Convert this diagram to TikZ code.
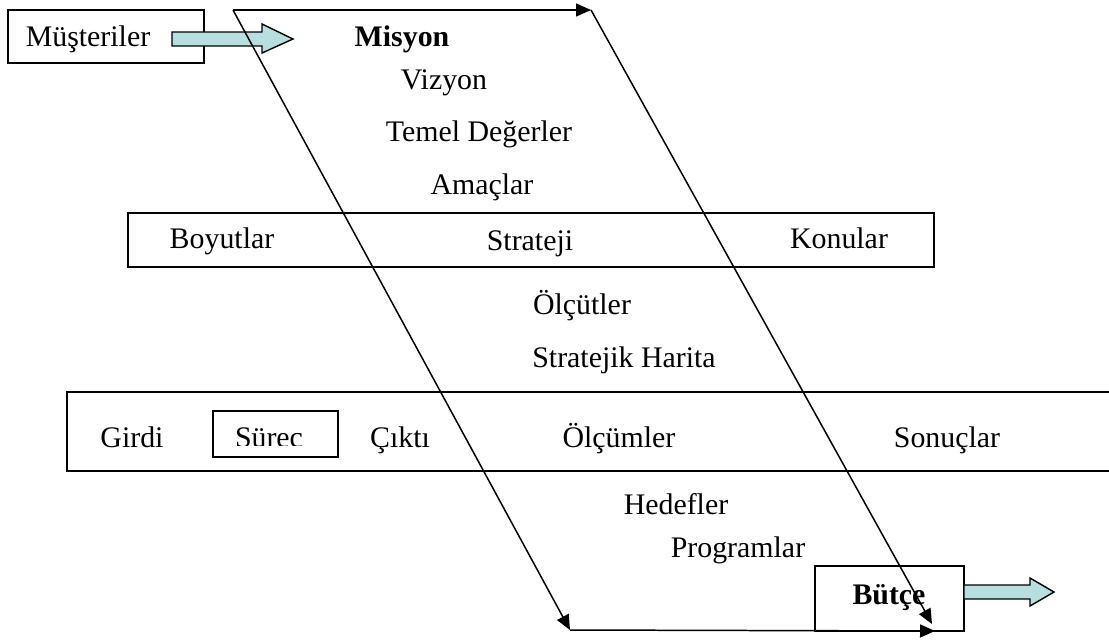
\documentclass[tikz,border=0pt]{standalone}
\usepackage{fontspec}
\setmainfont{Liberation Serif}
\usetikzlibrary{arrows.meta}

\definecolor{arrowfill}{HTML}{B8DEE0}

\tikzset{
  lbl/.style={inner sep=0pt, text height=12pt, text depth=3.7pt,
    font=\fontsize{17}{20}\selectfont},
  blbl/.style={lbl, font=\fontsize{17}{20}\selectfont\bfseries},
  box/.style={draw, line width=0.9pt},
  flow/.style={line width=0.85pt, -{Triangle[length=0.3cm, width=0.26cm]}},
  blockarrow/.style={draw, line width=0.8pt, fill=arrowfill}
}

\begin{document}
\begin{tikzpicture}[x=0.02cm, y=-0.02cm]
  \useasboundingbox (0,0) rectangle (1109,640);
  % boxes
  \draw[box] (8,10) rectangle (204,63);
  \draw[box] (128,213) rectangle (934,267);
  \draw[box] (1109,392) -- (67,392) -- (67,471) -- (1109,471);
  \draw[box] (213,411) rectangle (338,457);
  \draw[box] (815,566) rectangle (964,631);
  % fat arrows
  \draw[blockarrow] (172,32) -- (262,32) -- (262,24) -- (293,39) -- (262,53)
    -- (262,46) -- (172,46) -- cycle;
  \draw[blockarrow] (964,585) -- (1030,585) -- (1030,578) -- (1054,592)
    -- (1030,606) -- (1030,599) -- (964,599) -- cycle;
  % labels
  \node[lbl] (must) at (88,39) {Müşteriler};
  \node[blbl] (misyon) at (402,39) {Misyon};
  \node[lbl] (vizyon) at (444,82) {Vizyon};
  \node[lbl] (deger) at (479,134) {Temel Değerler};
  \node[lbl] (amac) at (482,187) {Amaçlar};
  \node[lbl] (boyut) at (222,241) {Boyutlar};
  \node[lbl] (strateji) at (530,243) {Strateji};
  \node[lbl] (konu) at (839,241) {Konular};
  \node[lbl] (olcut) at (582,307) {Ölçütler};
  \node[lbl] (harita) at (624,360) {Stratejik Harita};
  \node[lbl] (girdi) at (132,440) {Girdi};
  \begin{scope}
    \clip (214,412) rectangle (337,445);
    \node[lbl] (surec) at (269,440) {Süreç};
  \end{scope}
  \node[lbl] (cikti) at (400,440) {Çıktı};
  \node[lbl] (olcum) at (619,440) {Ölçümler};
  \node[lbl] (sonuc) at (947,440) {Sonuçlar};
  \node[lbl] (hedef) at (676,507) {Hedefler};
  \node[lbl] (program) at (738,550) {Programlar};
  \node[blbl] (butce) at (889,597) {Bütçe};
  % corners of the flow
  \coordinate (tl) at (233,10);
  \coordinate (tr) at (591,10);
  \coordinate (bl) at (570,630);
  \coordinate (br) at (935,631);
  \coordinate (bend) at (932,624);
  % flow lines
  \draw[flow] (tl) -- (tr);
  \draw[flow] (tr) -- (bend);
  \draw[flow] (tl) -- (bl);
  \draw[flow] (bl) -- (br);
\end{tikzpicture}
\end{document}
